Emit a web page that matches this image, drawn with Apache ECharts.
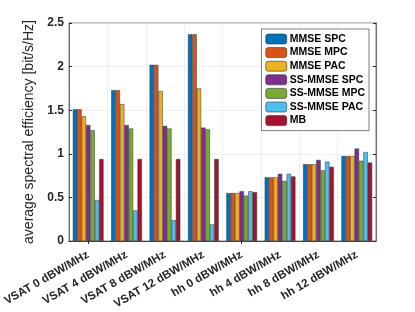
<!DOCTYPE html>
<html><head><meta charset="utf-8">
<script src="https://cdn.jsdelivr.net/npm/echarts@6/dist/echarts.min.js"></script>
<style>html,body{margin:0;padding:0;background:#fff}#c{width:415px;height:312px}</style>
</head><body><div id="c"></div>
<script>
const categories = ['VSAT 0 dBW/MHz','VSAT 4 dBW/MHz','VSAT 8 dBW/MHz','VSAT 12 dBW/MHz','hh 0 dBW/MHz','hh 4 dBW/MHz','hh 8 dBW/MHz','hh 12 dBW/MHz'];
const seriesNames = ['MMSE SPC','MMSE MPC','MMSE PAC','SS-MMSE SPC','SS-MMSE MPC','SS-MMSE PAC','MB'];
const mmseSPC   = [1.51, 1.73, 2.02, 2.37, 0.55, 0.73, 0.88, 0.975];
const mmseMPC   = [1.51, 1.73, 2.02, 2.37, 0.55, 0.73, 0.88, 0.975];
const mmsePAC   = [1.43, 1.57, 1.72, 1.75, 0.55, 0.73, 0.88, 0.975];
const ssSPC     = [1.33, 1.33, 1.32, 1.30, 0.57, 0.77, 0.93, 1.06];
const ssMPC     = [1.27, 1.29, 1.29, 1.28, 0.52, 0.69, 0.81, 0.92];
const ssPAC     = [0.47, 0.35, 0.24, 0.19, 0.57, 0.77, 0.91, 1.02];
const mb        = [0.94, 0.94, 0.94, 0.94, 0.56, 0.74, 0.85, 0.90];
const yTicks = [0, 0.5, 1, 1.5, 2, 2.5];
const colors = ['#0072BD','#D95319','#EDB120','#7E2F8E','#77AC30','#4DBEEE','#A2142F'];
const allData = [mmseSPC, mmseMPC, mmsePAC, ssSPC, ssMPC, ssPAC, mb];

const chart = echarts.init(document.getElementById('c'));
const font = 'Liberation Sans, Helvetica, Arial, sans-serif';
const axisCol = '#262626';
chart.setOption({
  animation: false,
  color: colors,
  textStyle: {fontFamily: font},
  grid: {left: 69, right: 39, top: 23, bottom: 71, show: true, borderColor: '#262626', borderWidth: 0.6,
    containLabel: false, outerBoundsMode: 'none'},
  legend: {
    orient: 'vertical', right: 46, top: 29,
    data: seriesNames,
    itemWidth: 21, itemHeight: 10, itemGap: 1.6,
    padding: [4, 4, 4, 4],
    backgroundColor: '#fff', borderColor: '#262626', borderWidth: 0.6,
    textStyle: {fontSize: 10.5, fontWeight: 'bold', color: '#000', fontFamily: font, padding: [0,0,0,-2], lineHeight: 12},
    itemStyle: {borderColor: '#333', borderWidth: 0.6}
  },
  xAxis: [{
    type: 'category', data: categories, boundaryGap: true,
    axisLine: {show: true, lineStyle: {color: axisCol, width: 0.6}},
    axisTick: {show: true, inside: true, alignWithLabel: true, length: 3, lineStyle: {color: axisCol}},
    axisLabel: {rotate: 30, fontSize: 11.5, fontWeight: 'bold', color: axisCol, margin: 13, interval: 0, fontFamily: font},
    splitLine: {show: true, interval: 0, lineStyle: {color: '#e6e6e6', width: 0.6}}
  }, {
    type: 'category', data: categories, position: 'top', boundaryGap: true,
    axisLine: {show: true, lineStyle: {color: axisCol, width: 0.6}},
    axisTick: {show: true, inside: true, alignWithLabel: true, length: 3, lineStyle: {color: axisCol}},
    axisLabel: {show: false}
  }],
  yAxis: [{
    type: 'value', min: 0, max: 2.5, interval: 0.5,
    name: 'average spectral efficiency [bit/s/Hz]', nameLocation: 'middle', nameGap: 23,
    nameTextStyle: {fontSize: 14, color: axisCol, fontFamily: font},
    axisLine: {show: true, lineStyle: {color: axisCol, width: 0.6}},
    axisTick: {show: true, inside: true, length: 3, lineStyle: {color: axisCol}},
    axisLabel: {fontSize: 12, fontWeight: 'bold', color: axisCol, margin: 5, fontFamily: font,
      formatter: v => yTicks.includes(v) ? String(v) : ''},
    splitLine: {show: true, lineStyle: {color: '#e6e6e6', width: 0.6}}
  }, {
    type: 'value', min: 0, max: 2.5, interval: 0.5, position: 'right',
    axisLine: {show: true, lineStyle: {color: axisCol, width: 0.6}},
    axisTick: {show: true, inside: true, length: 3, lineStyle: {color: axisCol}},
    axisLabel: {show: false}, splitLine: {show: false}
  }],
  series: seriesNames.map((n, i) => ({
    name: n, type: 'bar', data: allData[i],
    barGap: '0%', barCategoryGap: '20%',
    itemStyle: {color: colors[i], borderColor: '#333', borderWidth: 0.5}
  }))
});
</script></body></html>
